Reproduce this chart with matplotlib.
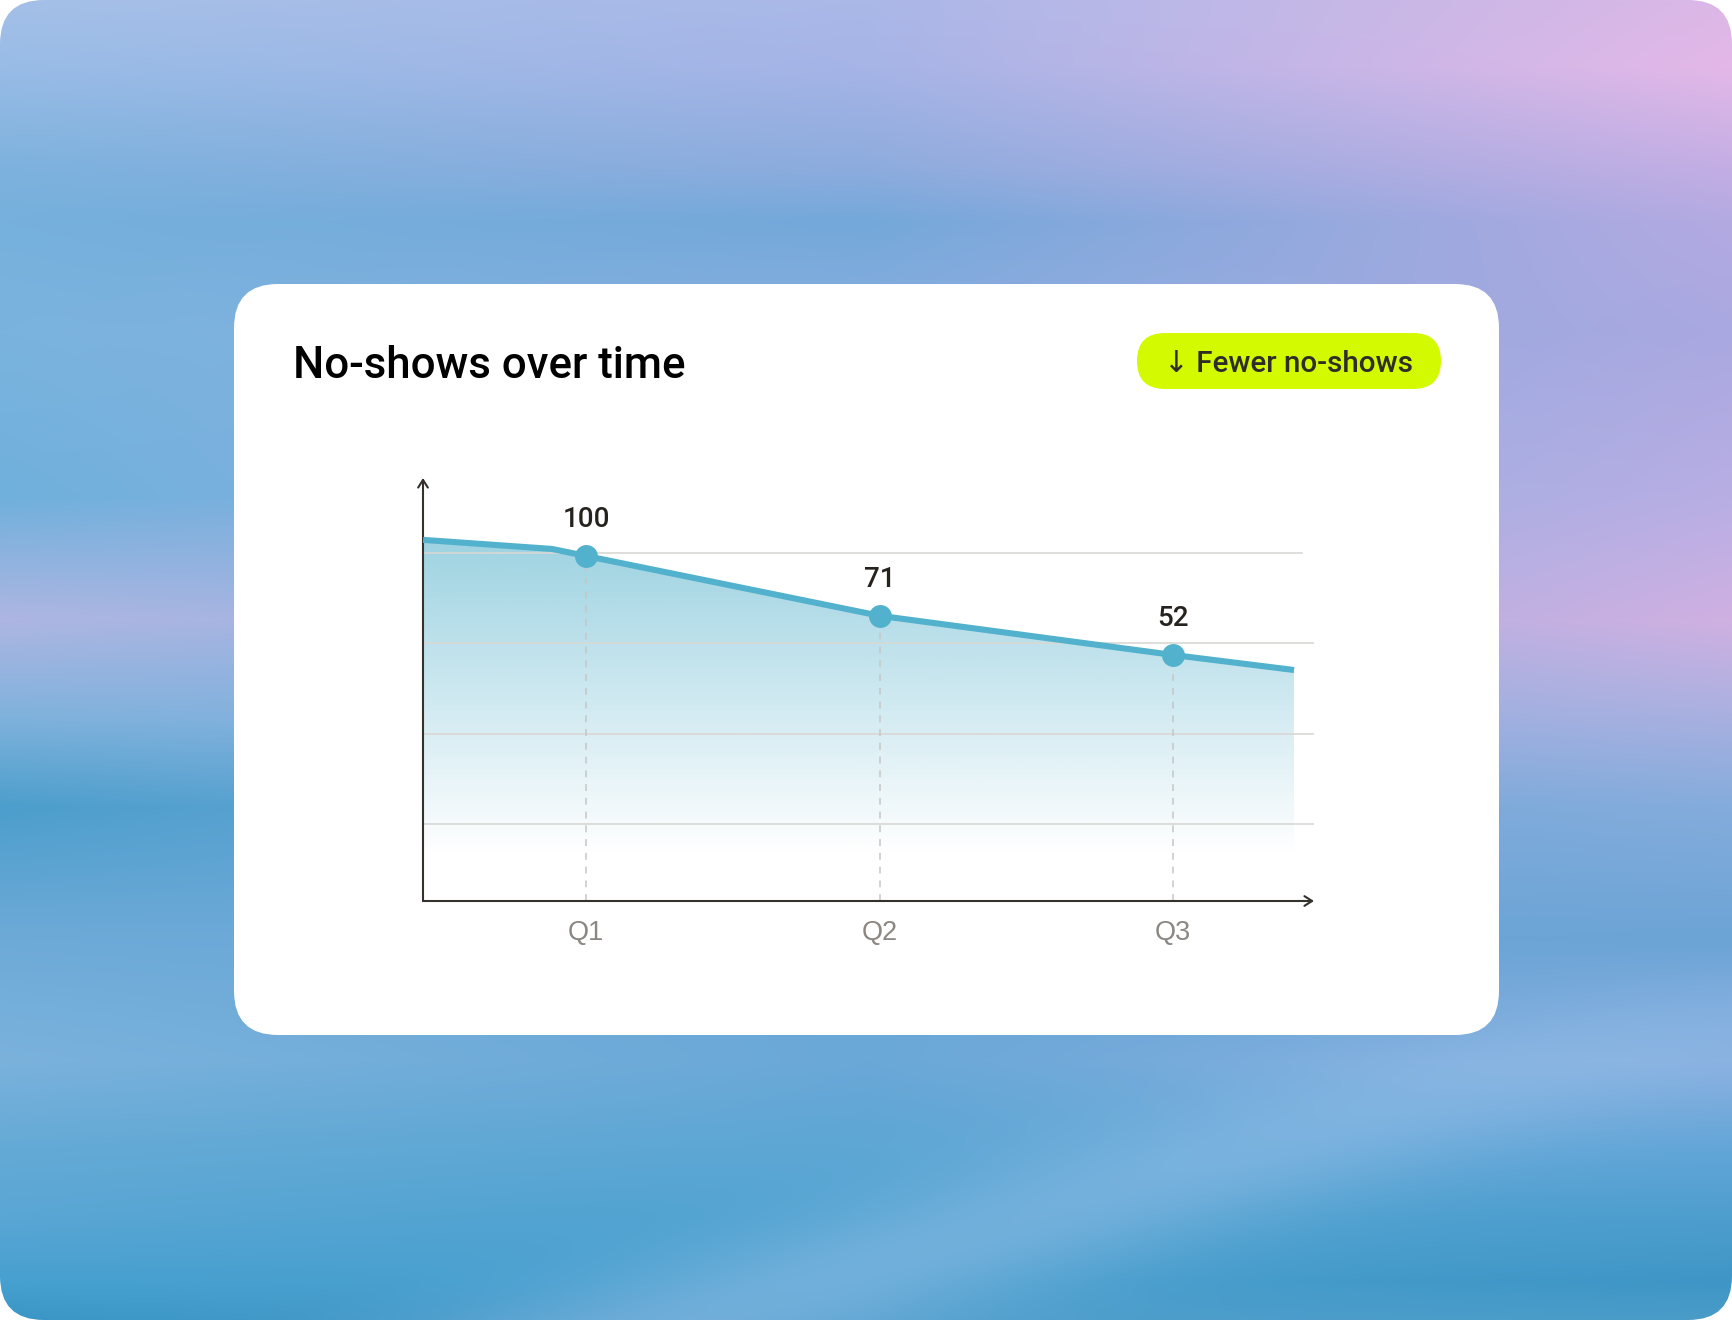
import numpy as np
import matplotlib.pyplot as plt
from matplotlib.patches import FancyBboxPatch
from matplotlib.colors import to_rgb

# --- chart data -------------------------------------------------------------
quarters = ['Q1', 'Q2', 'Q3']
quarter_x = [1, 2, 3]
values = [100, 71, 52]
# whole drawn curve: lead-in before Q1 and tail after Q3
curve_x = [0.445, 0.884, 1, 2, 3, 3.412]
curve_y = [107.8, 103.4, 100, 71, 52, 44.7]
title = 'No-shows over time'
badge = '\u2193 Fewer no-shows'

plt.rcParams['font.family'] = ['Roboto', 'DejaVu Sans']

W, H = 1732, 1320
fig = plt.figure(figsize=(W / 100, H / 100), dpi=100)
fig.patch.set_facecolor('white')

# full-figure axes in pixel units for the decoration
bg = fig.add_axes([0, 0, 1, 1])
bg.set_xlim(0, W)
bg.set_ylim(H, 0)
bg.axis('off')

# blurred blue/lilac backdrop: colour stops down three columns
ystops = np.array([0, 60, 150, 200, 300, 450, 560, 650, 730, 850, 960, 1040, 1100, 1160, 1195]) * 1.1046
left = ['#a4c0e8', '#98bce6', '#7eb2de', '#76b0dc', '#7ab4de', '#70b0dc', '#aeb6e2', '#7eb2dc',
        '#4c9ecc', '#6eaad8', '#7ab2dc', '#64aad6', '#5aa6d4', '#46a0d0', '#3a96c6']
center = ['#aab8e8', '#a6b4e6', '#8eacde', '#74a8da', '#88aedf', '#90b0e0', '#98b0e0', '#8cb0e0',
          '#70a8d8', '#6aa8d8', '#6aa8d8', '#5ca6d4', '#4ea2d0', '#4aa0ce', '#4e9ecc']
right = ['#dcb8e6', '#e4b8e8', '#c4aee4', '#b4aae2', '#aaa8e0', '#b8aee4', '#d0b0e2', '#a8b0e0',
         '#84acdc', '#6ca4d6', '#8aafe0', '#62a6d8', '#4e9ece', '#3e96c6', '#4a9cc8']

rows = np.arange(H)
cols_rgb = []
for c in (left, center, right):
    rgb = np.array([to_rgb(h) for h in c])
    cols_rgb.append(np.stack([np.interp(rows, ystops, rgb[:, k]) for k in range(3)], axis=1))
cols_rgb = np.stack(cols_rgb, axis=1)  # H x 3 x 3
xs = np.arange(W)
img = np.empty((H, W, 3))
for k in range(3):
    for r in range(H):
        img[r, :, k] = np.interp(xs, [0, W / 2, W], cols_rgb[r, :, k])

# soft diagonal light streak in the lower part
gx, gy = np.meshgrid(xs, rows)
p0 = np.array([700.0, 1320.0])
p1 = np.array([1732.0, 1000.0])
d = p1 - p0
n = np.array([-d[1], d[0]]) / np.hypot(*d)
dist = (gx - p0[0]) * n[0] + (gy - p0[1]) * n[1]
streak = np.exp(-(dist / 70.0) ** 2) * np.clip((gy - 950) / 120.0, 0, 1) * 0.55
light = np.array(to_rgb('#90bce6'))
img = img * (1 - streak[..., None]) + light * streak[..., None]

frame = FancyBboxPatch((0, 0), W, H, boxstyle='round,pad=0,rounding_size=44',
                       fc='none', ec='none')
bg.add_patch(frame)
im = bg.imshow(img, extent=(0, W, H, 0), interpolation='bilinear', zorder=0)
im.set_clip_path(frame)
bg.set_xlim(0, W)
bg.set_ylim(H, 0)

# white card
card = FancyBboxPatch((234, 284), 1265, 751, boxstyle='round,pad=0,rounding_size=44',
                      fc='white', ec='none', zorder=2)
bg.add_patch(card)

bg.text(293, 378, title, fontsize=31.6, fontweight='medium', color='#000000',
        va='baseline', ha='left', zorder=3)

pill = FancyBboxPatch((1137, 333), 304, 56, boxstyle='round,pad=0,rounding_size=28',
                      fc='#d4fa00', ec='none', zorder=3)
bg.add_patch(pill)
bg.text(1289, 372, badge, fontsize=21.3, fontweight='medium', color='#2e2d28',
        va='baseline', ha='center', zorder=4)

# --- the chart itself ----------------------------------------------------------
ax = fig.add_axes([423 / W, (H - 901) / H, (1314 - 423) / W, (901 - 478) / H])
ax.patch.set_alpha(0)
x0, x1 = 0.4446, 3.48
y0, y1 = -67.3, 137.8

line_col = '#52b1cc'

# gradient fill under the curve
grad = np.zeros((256, 1, 4))
grad[..., :3] = to_rgb('#56b2cc')
grad[:, 0, 3] = np.linspace(0.58, 0.0, 256)
fill = ax.fill_between(curve_x, curve_y, y0, color='none', lw=0)
gim = ax.imshow(grad, extent=(curve_x[0], curve_x[-1], -45, max(curve_y)),
                origin='upper', aspect='auto', zorder=1)
gim.set_clip_path(fill.get_paths()[0], transform=ax.transData)

# light guide lines
grid_fracs = [0.182, 0.395, 0.610, 0.823]
for i, f in enumerate(grid_fracs):
    xend = 3.44 if i == len(grid_fracs) - 1 else x1
    ax.plot([x0, xend], [f, f], transform=ax.get_xaxis_transform(),
            color='#d8d8d4', lw=1.4, alpha=0.85, zorder=2)

ax.vlines(quarter_x, y0, values, colors='#c6c6c6', linestyles=(0, (4.5, 4.5)),
          lw=1.1, zorder=3)
ax.plot(curve_x, curve_y, color=line_col, lw=4.4, solid_capstyle='butt',
        solid_joinstyle='round', zorder=4)
ax.plot(quarter_x, values, 'o', ms=16.5, color=line_col, mec='none', zorder=5)

for x, v in zip(quarter_x, values):
    ax.annotate(str(v), (x, v), xytext=(0, 21), textcoords='offset points',
                ha='center', va='baseline', fontsize=20, fontweight='medium',
                color='#26221e', zorder=6)

ax.set_xlim(x0, x1)
ax.set_ylim(y0, y1)
for s in ax.spines.values():
    s.set_visible(False)
ax.set_yticks([])
ax.set_xticks(quarter_x, quarters)
ax.tick_params(axis='x', length=0, pad=14, labelsize=19.5, labelcolor='#8c8782')
for lab in ax.get_xticklabels():
    lab.set_family(['Liberation Sans', 'DejaVu Sans'])

arrow = dict(arrowstyle='->,head_length=0.55,head_width=0.35', lw=1.5,
             color='#35312d', shrinkA=0, shrinkB=0)
ax.annotate('', xy=(0, 1), xytext=(0, 0), xycoords='axes fraction', arrowprops=arrow)
ax.annotate('', xy=(1, 0), xytext=(0, 0), xycoords='axes fraction', arrowprops=arrow)

fig.savefig('out.png', dpi=100)
